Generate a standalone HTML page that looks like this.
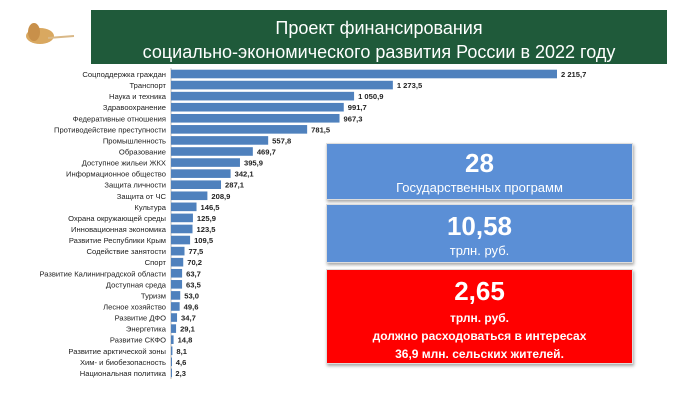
<!DOCTYPE html>
<html><head><meta charset="utf-8"><style>
body{margin:0;width:684px;height:419px;background:#fff;overflow:hidden;font-family:"Liberation Sans","DejaVu Sans",sans-serif;position:relative}
.hdr{position:absolute;left:91px;top:10px;width:576px;height:54px;background:#1f5a3a;color:#fff;text-align:center;font-size:18px;line-height:24px;padding-top:6px;box-sizing:border-box;font-weight:300}
.box{position:absolute;left:326px;width:307px;color:#fff;text-align:center;box-shadow:1px 2px 3px rgba(0,0,0,.35);border:1px solid #ddd;box-sizing:border-box}
.big{font-weight:bold;font-size:26px;line-height:30px}
</style></head><body>
<div style="position:absolute;left:18px;top:22px;width:58px;height:28px">
<svg width="58" height="28"><ellipse cx="22" cy="14" rx="14" ry="8" fill="#d9a860"/><ellipse cx="16" cy="10" rx="6" ry="9" fill="#c8904a"/><line x1="30" y1="16" x2="56" y2="14" stroke="#d9b887" stroke-width="2"/></svg></div>
<div class="hdr">Проект финансирования<br>социально-экономического развития России в 2022 году</div>
<svg id="chart" width="684" height="419" style="position:absolute;left:0;top:0"></svg>
<div class="box" style="top:143px;height:57px;background:#5b8fd6"><div class="big" style="margin-top:4px">28</div><div style="font-size:13px;margin-top:2px">Государственных программ</div></div>
<div class="box" style="top:204px;height:59px;background:#5b8fd6"><div class="big" style="margin-top:6px">10,58</div><div style="font-size:13px;margin-top:2px">трлн. руб.</div></div>
<div class="box" style="top:269px;height:95px;background:#ff0000;font-weight:bold"><div class="big" style="margin-top:6px">2,65</div><div style="font-size:12px;line-height:18px;margin-top:3px">трлн. руб.<br>должно расходоваться в интересах<br>36,9 млн. сельских жителей.</div></div>
<script>
const categories=["Соцподдержка граждан","Транспорт","Наука и техника","Здравоохранение","Федеративные отношения","Противодействие преступности","Промышленность","Образование","Доступное жильеи ЖКХ","Информационное общество","Защита личности","Защита от ЧС","Культура","Охрана окружающей среды","Инновационная экономика","Развитие Республики Крым","Содействие занятости","Спорт","Развитие Калининградской области","Доступная среда","Туризм","Лесное хозяйство","Развитие ДФО","Энергетика","Развитие СКФО","Развитие арктической зоны","Хим- и биобезопасность","Национальная политика"];
const values=[2215.7,1273.5,1050.9,991.7,967.3,781.5,557.8,469.7,395.9,342.1,287.1,208.9,146.5,125.9,123.5,109.5,77.5,70.2,63.7,63.5,53.0,49.6,34.7,29.1,14.8,8.1,4.6,2.3];
const labels=["2 215,7","1 273,5","1 050,9","991,7","967,3","781,5","557,8","469,7","395,9","342,1","287,1","208,9","146,5","125,9","123,5","109,5","77,5","70,2","63,7","63,5","53,0","49,6","34,7","29,1","14,8","8,1","4,6","2,3"];
const NS="http://www.w3.org/2000/svg",svg=document.getElementById('chart');
const x0=171,xs=v=>v*386/2215.7,yc=i=>74+i*11.07;
const ax=document.createElementNS(NS,'line');


ax.setAttribute('x1',x0);ax.setAttribute('x2',x0);ax.setAttribute('y1',68);ax.setAttribute('y2',379);ax.setAttribute('stroke','#bbb');svg.appendChild(ax);
categories.forEach((c,i)=>{
 const r=document.createElementNS(NS,'rect');
 
 
 r.setAttribute('x',x0);r.setAttribute('y',yc(i)-4.3);r.setAttribute('width',Math.max(1,xs(values[i])));r.setAttribute('height',8.6);r.setAttribute('fill','#4f81bd');svg.appendChild(r);
 const t=document.createElementNS(NS,'text');
 
 
 t.setAttribute('x',166);t.setAttribute('y',yc(i)+3);t.setAttribute('text-anchor','end');t.setAttribute('font-size','7.6');t.setAttribute('fill','#222');t.textContent=c;svg.appendChild(t);
 const v=document.createElementNS(NS,'text');
 
 
 v.setAttribute('x',x0+xs(values[i])+4);v.setAttribute('y',yc(i)+3);v.setAttribute('font-size','7.6');v.setAttribute('font-weight','bold');v.setAttribute('fill','#222');v.textContent=labels[i];svg.appendChild(v);
});
</script>
</body></html>
